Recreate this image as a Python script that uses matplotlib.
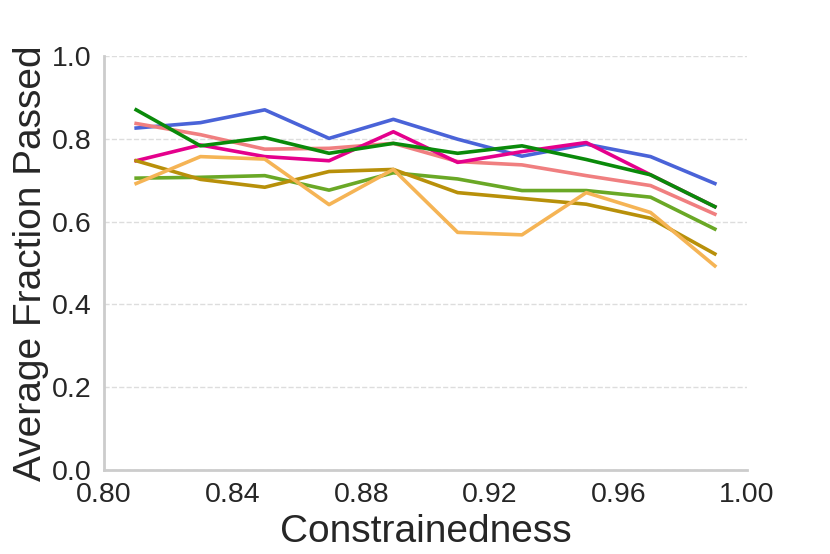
import matplotlib
matplotlib.use("Agg")
import matplotlib.pyplot as plt

plt.rcParams['font.family'] = ['Liberation Sans', 'DejaVu Sans']

constrainedness = [0.81, 0.83, 0.85, 0.87, 0.89, 0.91, 0.93, 0.95, 0.97, 0.99]

blue = [0.826, 0.839, 0.870, 0.801, 0.847, 0.799, 0.758, 0.787, 0.757, 0.692]
salmon = [0.837, 0.810, 0.775, 0.777, 0.789, 0.745, 0.737, 0.711, 0.687, 0.618]
magenta = [0.747, 0.785, 0.757, 0.747, 0.817, 0.743, 0.769, 0.791, 0.713, 0.636]
green = [0.870, 0.783, 0.803, 0.765, 0.789, 0.765, 0.783, 0.750, 0.713, 0.636]
yellowgreen = [0.705, 0.707, 0.711, 0.676, 0.718, 0.703, 0.675, 0.675, 0.659, 0.582]
olive = [0.747, 0.702, 0.683, 0.721, 0.726, 0.670, 0.656, 0.642, 0.608, 0.522]
orange = [0.692, 0.757, 0.751, 0.641, 0.726, 0.574, 0.568, 0.670, 0.622, 0.493]

series = [
    (blue, '#4a63d8'),
    (salmon, '#f07f80'),
    (magenta, '#e4008c'),
    (green, '#0a8a0a'),
    (yellowgreen, '#6aa826'),
    (olive, '#b8900a'),
    (orange, '#f5b455'),
]

fig = plt.figure(figsize=(8.3, 5.54), dpi=100)
ax = fig.add_axes([104 / 830, 1 - 470 / 554, 643 / 830, 414 / 554])

for vals, col in series:
    ax.plot(constrainedness, vals, color=col, linewidth=2.6)

ax.set_xlim(0.80, 1.00)
ax.set_ylim(0.0, 1.0)
ax.set_xticks([0.80, 0.84, 0.88, 0.92, 0.96, 1.00])
ax.set_xticklabels(['0.80', '0.84', '0.88', '0.92', '0.96', '1.00'])
ax.set_yticks([0.0, 0.2, 0.4, 0.6, 0.8, 1.0])
ax.set_yticklabels(['0.0', '0.2', '0.4', '0.6', '0.8', '1.0'])
ax.tick_params(axis='both', length=0, labelsize=20.5, colors='#262626')
ax.tick_params(axis='x', pad=9)
ax.tick_params(axis='y', pad=9)
ax.yaxis.grid(True, linestyle='--', color='#dddddd', linewidth=1)
ax.set_axisbelow(True)

for s in ['top', 'right']:
    ax.spines[s].set_visible(False)
for s in ['left', 'bottom']:
    ax.spines[s].set_color('#cccccc')
    ax.spines[s].set_linewidth(2)

ax.set_xlabel('Constrainedness', fontsize=28, color='#262626', labelpad=4)
ax.set_ylabel('Average Fraction Passed', fontsize=28, color='#262626', labelpad=2)

fig.savefig('out.png', dpi=100)
